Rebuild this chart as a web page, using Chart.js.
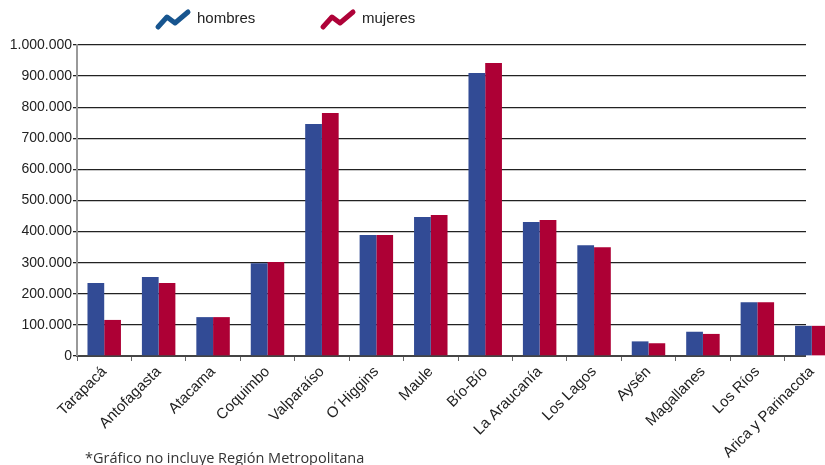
<!DOCTYPE html>
<html>
<head>
<meta charset="utf-8">
<script src="https://cdn.jsdelivr.net/npm/chart.js@4/dist/chart.umd.min.js"></script>
<style>
  html, body { margin: 0; padding: 0; background: #fff; overflow: hidden; }
  #wrap { width: 825px; height: 465px; overflow: hidden; }
</style>
</head>
<body>
<div id="wrap"><canvas id="myChart" width="840" height="465"></canvas></div>
<script>
// Data
const regiones = [
    'Tarapacá', 'Antofagasta', 'Atacama', 'Coquimbo', 'Valparaíso', 'O´Higgins', 'Maule',
    'Bío-Bío', 'La Araucanía', 'Los Lagos', 'Aysén', 'Magallanes', 'Los Ríos', 'Arica y Parinacota'
];
const hombres = [235000, 254000, 125000, 298000, 746000, 389000, 447000, 910000, 431000, 356000, 47000, 78000, 173000, 97000];
const mujeres = [116000, 235000, 125000, 302000, 781000, 389000, 453000, 942000, 437000, 350000, 41000, 71000, 173000, 97000];
const yTicks = [0, 100000, 200000, 300000, 400000, 500000, 600000, 700000, 800000, 900000, 1000000];
const nota = '*Gráfico no incluye Región Metropolitana';

function formatMiles(v) {
    return String(v).replace(/\B(?=(\d{3})+(?!\d))/g, '.');
}

// Zigzag legend icon
function zigzag(ctx, x, y, color) {
    ctx.save();
    ctx.strokeStyle = color;
    ctx.lineWidth = 5;
    ctx.lineCap = 'round';
    ctx.lineJoin = 'round';
    ctx.beginPath();
    ctx.moveTo(x + 3, y + 8);
    ctx.lineTo(x + 12, y - 2);
    ctx.lineTo(x + 20, y + 4);
    ctx.lineTo(x + 33, y - 7);
    ctx.stroke();
    ctx.restore();
}

// Grid lines stop short of the last (cropped) category, as in the original
const gridCut = {
    id: 'gridCut',
    beforeDatasetsDraw(chart) {
        const a = chart.chartArea;
        const ctx = chart.ctx;
        ctx.save();
        ctx.fillStyle = '#fff';
        ctx.fillRect(806, a.top - 3, chart.width - 806, a.bottom - a.top + 5);
        ctx.restore();
    }
};

const legendAndNote = {
    id: 'legendAndNote',
    afterDraw(chart) {
        const ctx = chart.ctx;
        const legendColors = ['#17558f', '#ae0238'];
        const xs = [155, 320];
        ctx.save();
        ctx.font = '15px "Liberation Sans", Arial, sans-serif';
        ctx.fillStyle = '#222';
        ctx.textBaseline = 'middle';
        chart.data.datasets.forEach(function (ds, i) {
            zigzag(ctx, xs[i], 19, legendColors[i]);
            ctx.fillText(ds.label, xs[i] + 42, 19);
        });
        ctx.font = '14.5px "Open Sans", sans-serif';
        ctx.fillStyle = '#333';
        ctx.textBaseline = 'alphabetic';
        ctx.fillText(nota, 85, 463);
        ctx.restore();
    }
};

const ctx = document.getElementById('myChart');
// eslint-disable-next-line no-unused-vars
const myChart = new Chart(ctx, {
    type: 'bar',
    data: {
        labels: regiones,
        datasets: [{
            label: 'hombres',
            data: hombres,
            backgroundColor: '#324b95',
            categoryPercentage: 0.615,
            barPercentage: 1
        }, {
            label: 'mujeres',
            data: mujeres,
            backgroundColor: '#ad0035',
            categoryPercentage: 0.615,
            barPercentage: 1
        }]
    },
    options: {
        responsive: false,
        animation: false,
        layout: {
            padding: { top: 45, right: 1, left: 0, bottom: 0 }
        },
        plugins: {
            legend: { display: false },
            tooltip: { enabled: false }
        },
        scales: {
            x: {
                offset: true,
                grid: {
                    display: true,
                    drawOnChartArea: false,
                    offset: true,
                    tickLength: 5,
                    color: '#666'
                },
                border: { color: '#444', width: 2 },
                ticks: {
                    autoSkip: false,
                    minRotation: 45,
                    maxRotation: 45,
                    padding: 2,
                    color: '#222',
                    font: { family: '"Liberation Sans", Arial, sans-serif', size: 15 }
                },
                afterFit(scale) { scale.height = 109; }
            },
            y: {
                min: 0,
                max: 1000000,
                afterBuildTicks(scale) {
                    scale.ticks = yTicks.map(v => ({ value: v }));
                },
                grid: {
                    color: '#222',
                    lineWidth: 1.3,
                    tickLength: 4
                },
                border: { color: '#999', width: 2 },
                ticks: {
                    padding: 1,
                    color: '#222',
                    font: { family: '"Liberation Sans", Arial, sans-serif', size: 14 },
                    callback: v => formatMiles(v)
                },
                afterFit(scale) { scale.width = 77; }
            }
        }
    },
    plugins: [gridCut, legendAndNote]
});
</script>
</body>
</html>
